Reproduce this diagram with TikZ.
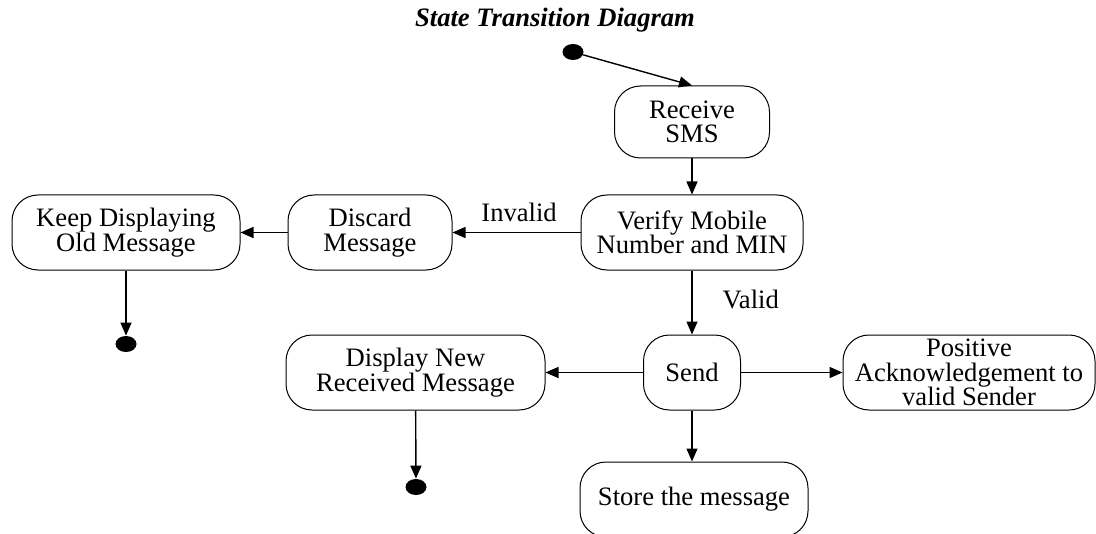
\documentclass[tikz,border=0pt]{standalone}
\usepackage{fontspec}
\setmainfont{Liberation Serif}
\usepackage{tikz}
\usetikzlibrary{arrows.meta}
\usetikzlibrary{shapes.geometric}
\tikzset{
  state/.style={draw, line width=0.5pt, rounded corners=13pt, align=center, inner sep=0pt,
    font=\fontsize{13.3pt}{12.2pt}\selectfont},
  dot/.style={fill=black, ellipse, inner sep=0pt, minimum width=10.5pt, minimum height=8pt},
  trans/.style={line width=0.7pt, -{Triangle[length=6.5pt, width=5.5pt]}},
  lbl/.style={font=\fontsize{13.3pt}{12.2pt}\selectfont, inner sep=0pt}
}
\begin{document}
\begin{tikzpicture}[x=0.5pt, y=-0.5pt]
        \useasboundingbox (0,0) rectangle (1096,534);
        % title
        \node[lbl, font=\fontsize{13.3pt}{12.2pt}\selectfont\bfseries\itshape] (title) at (555,20) {State Transition Diagram};
        % top row
        \node[dot] (start) at (573,52) {};
        \node[state, minimum width=77.5pt, minimum height=36pt] (recv) at (692,122) {Receive\\SMS};
        % row2
        \node[state, minimum width=111pt, minimum height=37.5pt] (verify) at (692,232.5) {Verify Mobile\\Number and MIN};
        \node[state, minimum width=82pt, minimum height=37.5pt] (discard) at (370,232.5) {Discard\\Message};
        \node[state, minimum width=114pt, minimum height=37.5pt] (keep) at (126,232.5) {Keep Displaying\\Old Message};
        \node[dot] (endA) at (126,344) {};
        % row3
        \node[state, minimum width=48.5pt, minimum height=37.5pt] (send) at (692,372.5) {Send};
        \node[state, minimum width=129.5pt, minimum height=37.5pt] (display) at (415.5,372.5) {Display New\\Received Message};
        \node[state, minimum width=126pt, minimum height=37.5pt] (ack) at (969,372.5) {Positive\\Acknowledgement to\\valid Sender};
        \node[dot] (endB) at (416,487) {};
        % row4
        \node[state, minimum width=114pt, minimum height=37.5pt] (store) at (694,499.5) {Store the message};
        % transitions
        \draw[trans] (start) -- (recv.north);
        \draw[trans] (recv) -- (verify);
        \draw[trans] (verify) -- node[lbl, above=5pt, pos=0.48] {Invalid} (discard);
        \draw[trans] (discard) -- (keep);
        \draw[trans] (keep) -- (endA);
        \draw[trans] (verify) -- node[lbl, right=15pt, pos=0.45] {Valid} (send);
        \draw[trans] (send) -- (display);
        \draw[trans] (send) -- (ack);
        \draw[trans] (send.south) -- (send.south |- store.north);
        \draw[trans] (display) -- (endB);
\end{tikzpicture}
\end{document}
